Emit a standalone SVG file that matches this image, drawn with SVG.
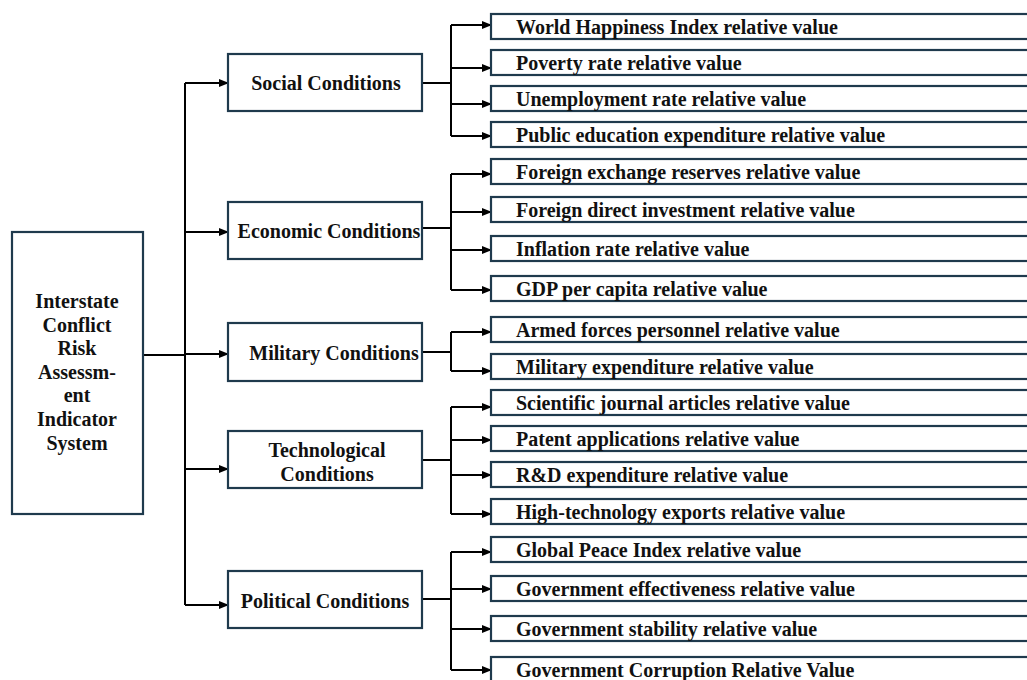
<svg xmlns="http://www.w3.org/2000/svg" width="1027" height="680" viewBox="0 0 1027 680">
<style>
.box{fill:#fff;stroke:#1f3a4d;stroke-width:2.2}
.t{font-family:"Liberation Serif","Times New Roman","DejaVu Serif",serif;font-weight:bold;font-size:20px;fill:#111}
.c{text-anchor:middle}
.ln{fill:none;stroke:#000;stroke-width:2}
</style>
<defs>
<marker id="ah" markerWidth="10" markerHeight="8" refX="9" refY="4" orient="auto" markerUnits="userSpaceOnUse">
<path d="M0,0 L10,4 L0,8 Z" fill="#000"/>
</marker>
</defs>
<rect width="1027" height="680" fill="#fff"/>
<g id="connectors">
<path class="ln" d="M143,355 H185"/>
<path class="ln" d="M185,83 V605"/>
<path class="ln" d="M185,83 H228" marker-end="url(#ah)"/>
<path class="ln" d="M185,232 H228" marker-end="url(#ah)"/>
<path class="ln" d="M185,354 H228" marker-end="url(#ah)"/>
<path class="ln" d="M185,469 H228" marker-end="url(#ah)"/>
<path class="ln" d="M185,605 H228" marker-end="url(#ah)"/>
<path class="ln" d="M422,83 H451"/>
<path class="ln" d="M451,25 V136"/>
<path class="ln" d="M451,25 H491" marker-end="url(#ah)"/>
<path class="ln" d="M451,68 H491" marker-end="url(#ah)"/>
<path class="ln" d="M451,104 H491" marker-end="url(#ah)"/>
<path class="ln" d="M451,136 H491" marker-end="url(#ah)"/>
<path class="ln" d="M422,228 H451"/>
<path class="ln" d="M451,174 V290"/>
<path class="ln" d="M451,174 H491" marker-end="url(#ah)"/>
<path class="ln" d="M451,212 H491" marker-end="url(#ah)"/>
<path class="ln" d="M451,250 H491" marker-end="url(#ah)"/>
<path class="ln" d="M451,290 H491" marker-end="url(#ah)"/>
<path class="ln" d="M422,352 H451"/>
<path class="ln" d="M451,332 V371"/>
<path class="ln" d="M451,332 H491" marker-end="url(#ah)"/>
<path class="ln" d="M451,371 H491" marker-end="url(#ah)"/>
<path class="ln" d="M422,460 H451"/>
<path class="ln" d="M451,407 V514"/>
<path class="ln" d="M451,407 H491" marker-end="url(#ah)"/>
<path class="ln" d="M451,440 H491" marker-end="url(#ah)"/>
<path class="ln" d="M451,475 H491" marker-end="url(#ah)"/>
<path class="ln" d="M451,514 H491" marker-end="url(#ah)"/>
<path class="ln" d="M422,599 H451"/>
<path class="ln" d="M451,552 V670"/>
<path class="ln" d="M451,552 H491" marker-end="url(#ah)"/>
<path class="ln" d="M451,589 H491" marker-end="url(#ah)"/>
<path class="ln" d="M451,629 H491" marker-end="url(#ah)"/>
<path class="ln" d="M451,670 H491" marker-end="url(#ah)"/>
</g>
<g id="root">
<rect class="box" x="12" y="232" width="131" height="282"/>
<text class="t c" x="77" y="308">Interstate</text>
<text class="t c" x="77" y="332">Conflict</text>
<text class="t c" x="77" y="355">Risk</text>
<text class="t c" x="77" y="379">Assessm-</text>
<text class="t c" x="77" y="402">ent</text>
<text class="t c" x="77" y="426">Indicator</text>
<text class="t c" x="77" y="450">System</text>
</g>
<g id="social">
<rect class="box" x="228" y="54" width="194" height="57"/>
<text class="t c" x="326" y="90">Social Conditions</text>
</g>
<g id="economic">
<rect class="box" x="228" y="202" width="194" height="57"/>
<text class="t c" x="329" y="238">Economic Conditions</text>
</g>
<g id="military">
<rect class="box" x="228" y="323" width="194" height="58"/>
<text class="t c" x="334" y="360">Military Conditions</text>
</g>
<g id="technological">
<rect class="box" x="228" y="431" width="194" height="57"/>
<text class="t c" x="327" y="457">Technological</text>
<text class="t c" x="327" y="481">Conditions</text>
</g>
<g id="political">
<rect class="box" x="228" y="571" width="194" height="57"/>
<text class="t c" x="325" y="608">Political Conditions</text>
</g>
<g id="leaf1"><rect class="box" x="491" y="14" width="545" height="25"/><text class="t" x="516" y="34">World Happiness Index relative value</text></g>
<g id="leaf2"><rect class="box" x="491" y="50" width="545" height="25"/><text class="t" x="516" y="70">Poverty rate relative value</text></g>
<g id="leaf3"><rect class="box" x="491" y="86" width="545" height="25"/><text class="t" x="516" y="106">Unemployment rate relative value</text></g>
<g id="leaf4"><rect class="box" x="491" y="122" width="545" height="25"/><text class="t" x="516" y="142">Public education expenditure relative value</text></g>
<g id="leaf5"><rect class="box" x="491" y="159" width="545" height="25"/><text class="t" x="516" y="179">Foreign exchange reserves relative value</text></g>
<g id="leaf6"><rect class="box" x="491" y="197" width="545" height="25"/><text class="t" x="516" y="217">Foreign direct investment relative value</text></g>
<g id="leaf7"><rect class="box" x="491" y="236" width="545" height="25"/><text class="t" x="516" y="256">Inflation rate relative value</text></g>
<g id="leaf8"><rect class="box" x="491" y="276" width="545" height="25"/><text class="t" x="516" y="296">GDP per capita relative value</text></g>
<g id="leaf9"><rect class="box" x="491" y="317" width="545" height="25"/><text class="t" x="516" y="337">Armed forces personnel relative value</text></g>
<g id="leaf10"><rect class="box" x="491" y="354" width="545" height="25"/><text class="t" x="516" y="374">Military expenditure relative value</text></g>
<g id="leaf11"><rect class="box" x="491" y="390" width="545" height="25"/><text class="t" x="516" y="410">Scientific journal articles relative value</text></g>
<g id="leaf12"><rect class="box" x="491" y="426" width="545" height="25"/><text class="t" x="516" y="446">Patent applications relative value</text></g>
<g id="leaf13"><rect class="box" x="491" y="462" width="545" height="25"/><text class="t" x="516" y="482">R&amp;D expenditure relative value</text></g>
<g id="leaf14"><rect class="box" x="491" y="499" width="545" height="25"/><text class="t" x="516" y="519">High-technology exports relative value</text></g>
<g id="leaf15"><rect class="box" x="491" y="537" width="545" height="25"/><text class="t" x="516" y="557">Global Peace Index relative value</text></g>
<g id="leaf16"><rect class="box" x="491" y="576" width="545" height="25"/><text class="t" x="516" y="596">Government effectiveness relative value</text></g>
<g id="leaf17"><rect class="box" x="491" y="616" width="545" height="25"/><text class="t" x="516" y="636">Government stability relative value</text></g>
<g id="leaf18"><rect class="box" x="491" y="657" width="545" height="25"/><text class="t" x="516" y="677">Government Corruption Relative Value</text></g>
</svg>
